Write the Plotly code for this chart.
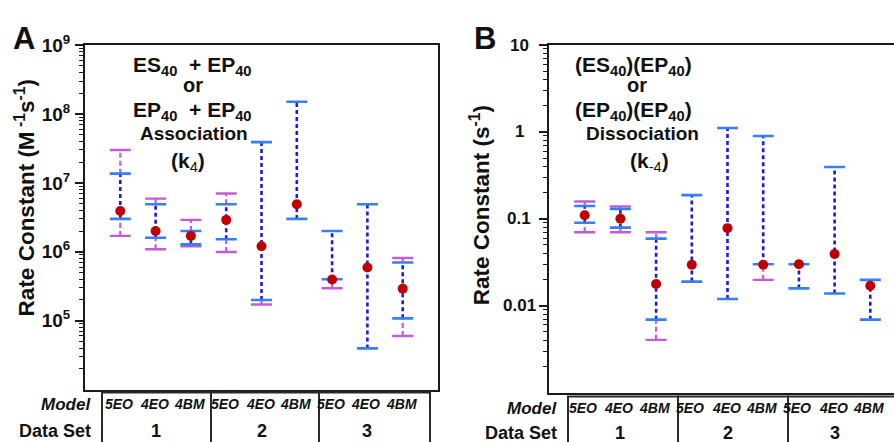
import math
import plotly.graph_objects as go

# ---------------- data ----------------
models = ["5EO", "4EO", "4BM"] * 3
data_sets = ["1", "2", "3"]
xpos = list(range(1, 10))
ds_center = [2, 5, 8]

# Panel A: association k4 (M^-1 s^-1)
a_val = [3.9e6, 2.0e6, 1.7e6, 2.9e6, 1.2e6, 4.9e6, 3.95e5, 5.9e5, 2.9e5]
a_blue_lo = [3.0e6, 1.6e6, 1.28e6, 1.52e6, 2.0e5, 3.0e6, 4.0e5, 3.96e4, 1.08e5]
a_blue_hi = [1.36e7, 4.9e6, 2.0e6, 4.9e6, 3.9e7, 1.5e8, 2.0e6, 4.9e6, 7.0e5]
a_mag_lo = [1.7e6, 1.09e6, 1.2e6, 0.99e6, 1.72e5, None, 2.95e5, None, 6.0e4]
a_mag_hi = [3.0e7, 5.9e6, 2.9e6, 7.0e6, None, None, None, None, 8.1e5]
a_tickvals = [1e5, 1e6, 1e7, 1e8, 1e9]
a_ticktext = ["10<sup>5</sup>", "10<sup>6</sup>", "10<sup>7</sup>", "10<sup>8</sup>", "10<sup>9</sup>"]

# Panel B: dissociation k-4 (s^-1)
b_val = [0.11, 0.10, 0.0177, 0.0296, 0.078, 0.0296, 0.030, 0.0393, 0.0169]
b_blue_lo = [0.09, 0.079, 0.0069, 0.0189, 0.0119, 0.030, 0.0158, 0.0138, 0.0069]
b_blue_hi = [0.14, 0.13, 0.059, 0.187, 1.11, 0.898, 0.030, 0.394, 0.0198]
b_mag_lo = [0.07, 0.07, 0.00404, None, None, 0.0198, None, None, None]
b_mag_hi = [0.158, 0.139, 0.07, None, None, None, None, None, None]
b_tickvals = [0.01, 0.1, 1, 10]
b_ticktext = ["0.01", "0.1", "1", "10"]

# ---------------- style ----------------
FONT = "Liberation Sans, Arial, sans-serif"
BLUE_LINE = "#1a1ae0"
BLUE_CAP = "#347ff5"
MAGENTA = "#c45ad8"
RED = "#c00000"
AXC = "#1a1a1a"
W, H = 894, 442


def px(x):
    return x / W


def py(y):
    return 1 - y / H


def minor_vals(lo_exp, hi_exp):
    out = []
    for e in range(lo_exp, hi_exp):
        for m in range(2, 10):
            out.append(m * 10 ** e)
    return out


fig = go.Figure()


def add_panel(xa, ya, val, blo, bhi, mlo, mhi):
    # magenta dashed segments outside the blue range
    mx, my = [], []
    for x, v, bl, bh, ml, mh in zip(xpos, val, blo, bhi, mlo, mhi):
        if mh is not None:
            mx += [x, x, None]
            my += [bh, mh, None]
        if ml is not None:
            mx += [x, x, None]
            my += [ml, bl, None]
    fig.add_trace(go.Scatter(x=mx, y=my, mode="lines", xaxis=xa, yaxis=ya,
                             line=dict(color=MAGENTA, width=2.2, dash="5px,3px"),
                             hoverinfo="skip", showlegend=False))
    # blue dotted ranges
    bx, by = [], []
    for x, bl, bh in zip(xpos, blo, bhi):
        bx += [x, x, None]
        by += [bl, bh, None]
    fig.add_trace(go.Scatter(x=bx, y=by, mode="lines", xaxis=xa, yaxis=ya,
                             line=dict(color=BLUE_LINE, width=2.6, dash="4px,3px"),
                             hoverinfo="skip", showlegend=False))
    # magenta caps
    cx, cy = [], []
    for x, ml, mh in zip(xpos, mlo, mhi):
        for c in (ml, mh):
            if c is not None:
                cx.append(x)
                cy.append(c)
    fig.add_trace(go.Scatter(x=cx, y=cy, mode="markers", xaxis=xa, yaxis=ya,
                             marker=dict(symbol="line-ew", size=15,
                                         line=dict(color=MAGENTA, width=2.4)),
                             hoverinfo="skip", showlegend=False))
    # blue caps
    cx, cy = [], []
    for x, bl, bh in zip(xpos, blo, bhi):
        cx += [x, x]
        cy += [bl, bh]
    fig.add_trace(go.Scatter(x=cx, y=cy, mode="markers", xaxis=xa, yaxis=ya,
                             marker=dict(symbol="line-ew", size=15,
                                         line=dict(color=BLUE_CAP, width=2.6)),
                             hoverinfo="skip", showlegend=False))
    # red points
    fig.add_trace(go.Scatter(x=xpos, y=val, mode="markers", xaxis=xa, yaxis=ya,
                             marker=dict(color=RED, size=10),
                             showlegend=False))


add_panel("x", "y", a_val, a_blue_lo, a_blue_hi, a_mag_lo, a_mag_hi)
add_panel("x2", "y2", b_val, b_blue_lo, b_blue_hi, b_mag_lo, b_mag_hi)

common_x = dict(showline=True, mirror=True, linewidth=2, linecolor=AXC,
                showticklabels=False, ticks="", showgrid=False, zeroline=False)

fig.update_layout(
    width=W, height=H,
    margin=dict(l=0, r=0, t=0, b=0),
    paper_bgcolor="white", plot_bgcolor="white",
    font=dict(family=FONT, color="#111"),
    xaxis=dict(domain=[px(85), px(438)], range=[0, 10], anchor="y", **common_x),
    yaxis=dict(domain=[py(388), py(33)], type="log", range=[4, 9], anchor="x",
               showline=True, mirror=True, linewidth=2, linecolor=AXC,
               ticks="outside", ticklen=8, tickwidth=1.5, tickcolor=AXC,
               tickvals=a_tickvals, ticktext=a_ticktext,
               tickfont=dict(size=19, family=FONT, weight="bold", color="#111"),
               ticklabelstandoff=1,
               minor=dict(ticks="outside", ticklen=4, tickwidth=1.2, tickcolor=AXC,
                          tickvals=minor_vals(4, 9)),
               showgrid=False, zeroline=False),
    xaxis2=dict(domain=[px(549), 1], range=[0, (W - 549) / 35.7], anchor="y2", **common_x),
    yaxis2=dict(domain=[py(391), py(33)], type="log", range=[-3, 1], anchor="x2",
                showline=True, mirror=False, linewidth=2, linecolor=AXC,
                ticks="outside", ticklen=8, tickwidth=1.5, tickcolor=AXC,
                tickvals=b_tickvals, showticklabels=False,
                minor=dict(ticks="outside", ticklen=4, tickwidth=1.2, tickcolor=AXC,
                           tickvals=minor_vals(-3, 1)),
                showgrid=False, zeroline=False),
)

ann = []


def text(x, y, t, size, xref="paper", yref="paper", xanchor="center", yanchor="middle",
         bold=True, italic=False, textangle=0):
    ann.append(dict(x=x, y=y, xref=xref, yref=yref, text=t, showarrow=False,
                    xanchor=xanchor, yanchor=yanchor, textangle=textangle,
                    font=dict(family=FONT, size=size, color="#111",
                              weight="bold" if bold else "normal",
                              style="italic" if italic else "normal")))


# Panel letters
text(px(24), py(26), "A", 31)
text(px(485), py(26), "B", 31)

# y titles
text(px(25), py(191), "Rate Constant (M<sup> -1</sup>s<sup>-1</sup>)", 22.5, textangle=-90)
text(px(480), py(198), "Rate Constant (s<sup>-1</sup>)", 22.5, textangle=-90)

# Panel B tick labels (centred)
for v, t in zip(b_tickvals, b_ticktext):
    text(px(519), math.log10(v), t, 17, yref="y2")

# Panel A annotation text
text(px(192), py(55), "ES<sub>40</sub>  + EP<sub>40</sub>", 21)
text(px(193), py(74), "or", 20)
text(px(192), py(101), "EP<sub>40</sub>  + EP<sub>40</sub>", 21)
text(px(194), py(124), "Association", 19)
text(px(188), py(153), "(k<span style='font-weight:normal'><sub>4</sub></span>)", 21)

# Panel B annotation text
text(px(633), py(55), "(ES<sub>40</sub>)(EP<sub>40</sub>)", 21)
text(px(637), py(74), "or", 20)
text(px(633), py(101), "(EP<sub>40</sub>)(EP<sub>40</sub>)", 21)
text(px(642), py(124), "Dissociation", 19)
text(px(649), py(153), "(k<span style='font-weight:normal'><sub>-4</sub></span>)", 21)

# Table labels
text(px(93), py(403), "Model", 17, xanchor="right", italic=True)
text(px(93), py(431), "Data Set", 18, xanchor="right")
text(px(559), py(407), "Model", 17, xanchor="right", italic=True)
text(px(559), py(433), "Data Set", 18, xanchor="right")

for x, m in zip(xpos, models):
    text(x - 0.04, py(403), m, 14, xref="x", italic=True)
    text(x - 0.04, py(407), m, 14, xref="x2", italic=True)
for x, d in zip(ds_center, data_sets):
    text(x, py(431), d, 18, xref="x")
    text(x, py(433), d, 18, xref="x2")

fig.update_layout(annotations=ann)

# table boxes
shapes = []
for x0, x1 in [(102, 211), (211, 319), (319, 430)]:
    shapes.append(dict(type="rect", xref="paper", yref="paper",
                       x0=px(x0), x1=px(x1), y0=py(450), y1=py(391),
                       line=dict(color="#2a2a2a", width=2)))
for x0, x1 in [(568, 678), (678, 788), (788, 900)]:
    shapes.append(dict(type="rect", xref="paper", yref="paper",
                       x0=px(x0), x1=px(x1), y0=py(450), y1=py(395),
                       line=dict(color="#2a2a2a", width=2)))
fig.update_layout(shapes=shapes)

fig.write_html(
    "out.html",
    config={"displayModeBar": False},
    post_script="document.body.style.margin='0';document.body.style.overflow='hidden';",
)
